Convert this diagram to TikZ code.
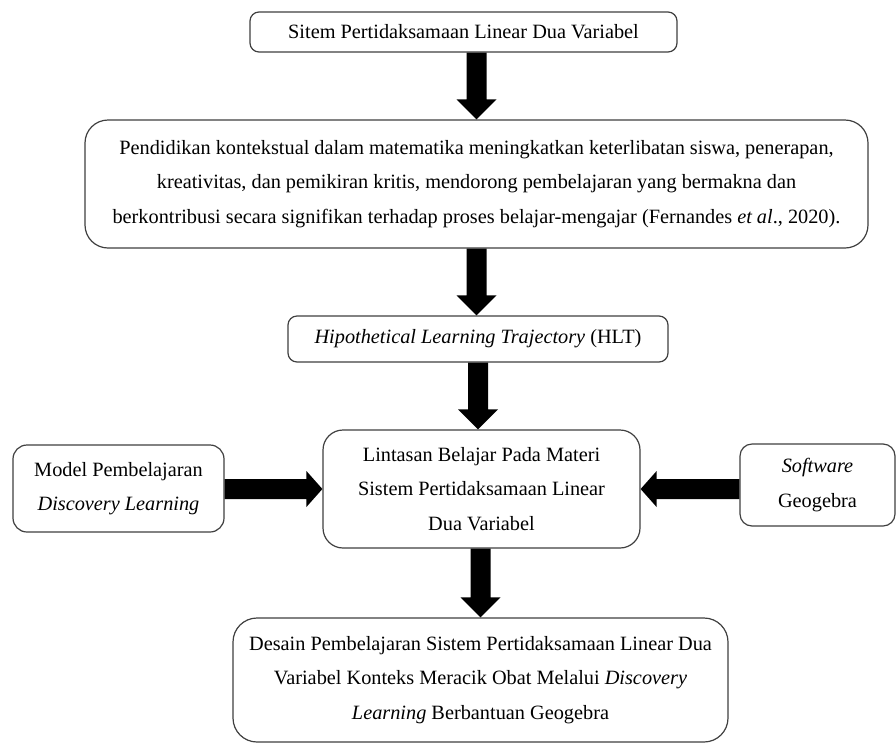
\documentclass[tikz,border=0pt]{standalone}
\usepackage{fontspec}
\setmainfont{Liberation Serif}
\usetikzlibrary{calc}
\tikzset{
  box/.style={draw=black!75, line width=1.2pt, fill=white, align=center, inner sep=0pt,
    font=\fontsize{20.3pt}{34.5pt}\selectfont, text=black},
}
\newcommand\arrdown[2]{\fill[black] let \p1=(#1), \p2=(#2) in
  (\x1-10pt,\y1) -- (\x1+10pt,\y1) -- (\x1+10pt,\y2+20pt) -- (\x1+20pt,\y2+20pt)
  -- (\x1,\y2) -- (\x1-20pt,\y2+20pt) -- (\x1-10pt,\y2+20pt) -- cycle;}
\newcommand\arrright[2]{\fill[black] let \p1=(#1), \p2=(#2) in
  (\x1,\y1+10pt) -- (\x2-16pt,\y1+10pt) -- (\x2-16pt,\y1+18pt) -- (\x2,\y1)
  -- (\x2-16pt,\y1-18pt) -- (\x2-16pt,\y1-10pt) -- (\x1,\y1-10pt) -- cycle;}
\newcommand\arrleft[2]{\fill[black] let \p1=(#1), \p2=(#2) in
  (\x1,\y1+10pt) -- (\x2+16pt,\y1+10pt) -- (\x2+16pt,\y1+18pt) -- (\x2,\y1)
  -- (\x2+16pt,\y1-18pt) -- (\x2+16pt,\y1-10pt) -- (\x1,\y1-10pt) -- cycle;}
\begin{document}
\begin{tikzpicture}[x=1pt,y=-1pt]
\useasboundingbox[fill=white] (0,0) rectangle (896,745);

\node[box, rounded corners=9pt, minimum width=427pt, minimum height=40pt] (b1) at (463.5,32)
  {Sitem Pertidaksamaan Linear Dua Variabel};
\node[box, rounded corners=23pt, minimum width=783pt, minimum height=128pt] (b2) at (476.5,184)
  {Pendidikan kontekstual dalam matematika meningkatkan keterlibatan siswa, penerapan,\\
   kreativitas, dan pemikiran kritis, mendorong pembelajaran yang bermakna dan\\
   berkontribusi secara signifikan terhadap proses belajar-mengajar (Fernandes \textit{et al}., 2020).};
\node[box, rounded corners=9pt, minimum width=380pt, minimum height=46pt] (hlt) at (478,339)
  {\textit{Hipothetical Learning Trajectory} (HLT)};
\node[box, rounded corners=20pt, minimum width=317pt, minimum height=118pt] (mid) at (481.5,489)
  {Lintasan Belajar Pada Materi\\ Sistem Pertidaksamaan Linear\\ Dua Variabel};
\node[box, rounded corners=14pt, minimum width=211pt, minimum height=87pt] (lft) at (118.5,488.5)
  {Model Pembelajaran\\ \textit{Discovery Learning}};
\node[box, rounded corners=12pt, minimum width=155pt, minimum height=82pt] (rgt) at (817.5,485)
  {\textit{Software}\\ Geogebra};
\node[box, rounded corners=24pt, minimum width=495pt, minimum height=124pt] (b5) at (480.5,680)
  {Desain Pembelajaran Sistem Pertidaksamaan Linear Dua\\
   Variabel Konteks Meracik Obat Melalui \textit{Discovery}\\
   \textit{Learning} Berbantuan Geogebra};

\coordinate (a1s) at (b1.south -| b2.north);
\arrdown{a1s}{b2.north}
\arrdown{b2.south}{hlt.north}
\coordinate (a3e) at (mid.north -| hlt.south);
\arrdown{hlt.south}{a3e}
\coordinate (a4s) at (mid.south -| b5.north);
\arrdown{a4s}{b5.north}
\coordinate (ls) at (lft.east |- mid.west);
\arrright{ls}{mid.west}
\coordinate (rs) at (rgt.west |- mid.east);
\arrleft{rs}{mid.east}
\end{tikzpicture}
\end{document}
